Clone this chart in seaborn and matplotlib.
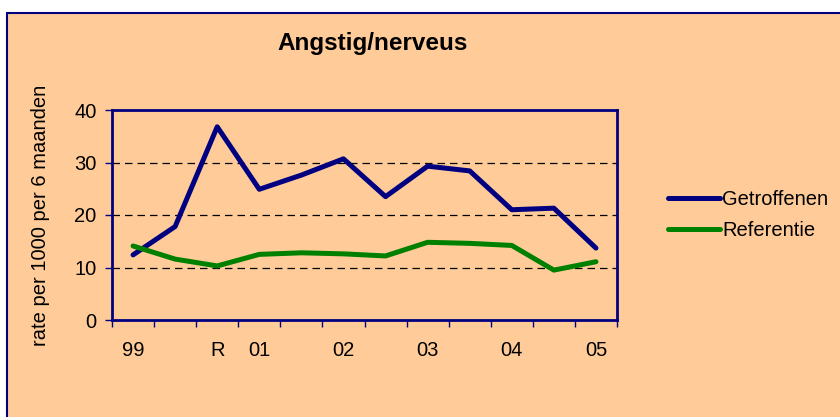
import matplotlib
matplotlib.use('Agg')
import matplotlib.pyplot as plt
from matplotlib.patches import Rectangle
import seaborn as sns
import pandas as pd
import numpy as np

# data
periods = ['99', '', 'R', '01', '', '02', '', '03', '', '04', '', '05']
getroffenen = [12.4, 17.8, 36.8, 24.9, 27.6, 30.7, 23.5, 29.3, 28.4, 21.0, 21.3, 13.7]
referentie = [14.1, 11.6, 10.3, 12.5, 12.8, 12.6, 12.2, 14.8, 14.6, 14.2, 9.5, 11.1]
series_names = ['Getroffenen', 'Referentie']
series_colors = ['#000080', '#008000']

peach = '#FFCC99'
navy = '#000080'

sns.set_style('white')
plt.rcParams['font.family'] = ['Liberation Sans', 'DejaVu Sans']
plt.rcParams['text.color'] = 'black'
plt.rcParams['axes.labelcolor'] = 'black'
plt.rcParams['xtick.color'] = 'black'
plt.rcParams['ytick.color'] = 'black'

df = pd.DataFrame({
  'pos': list(range(len(periods))) * 2,
  'rate': getroffenen + referentie,
  'reeks': [series_names[0]] * len(periods) + [series_names[1]] * len(periods),
})

fig = plt.figure(figsize=(8.4, 4.17), dpi=100)
fig.patch.set_facecolor('white')

# peach chart area with navy border on left / top
frame = Rectangle((7 / 840, -0.05), 1.2, 1 - 13 / 417 + 0.05,
                  transform=fig.transFigure, facecolor=peach,
                  edgecolor=navy, linewidth=1.5, zorder=-10)
fig.patches.append(frame)

ax = fig.add_axes([112 / 840, 1 - 320 / 417, 505 / 840, 210 / 417])
ax.set_facecolor(peach)

sns.lineplot(data=df, x='pos', y='rate', hue='reeks', palette=series_colors,
             linewidth=3.6, ax=ax, legend=True)

ax.set_xlim(-0.5, len(periods) - 0.5)
ax.set_ylim(0, 40)
ax.set_yticks([0, 10, 20, 30, 40])
for y in [10, 20, 30]:
  ax.axhline(y, color='black', linestyle=(0, (6, 4)), linewidth=0.9, zorder=1)

# tick marks between categories, labels on the categories
ax.set_xticks(np.arange(-0.5, len(periods), 1.0))
ax.set_xticklabels([])
ax.set_xticks(np.arange(len(periods)), minor=True)
ax.set_xticklabels(periods, minor=True)
ax.tick_params(axis='x', which='major', direction='out', length=5, width=1,
               color=navy, bottom=True)
ax.tick_params(axis='x', which='minor', length=0, pad=15, labelsize=14.5)
ax.tick_params(axis='y', direction='out', length=5, width=1, color=navy,
               left=True, pad=6, labelsize=14.5)

for s in ax.spines.values():
  s.set_visible(True)
  s.set_color(navy)
  s.set_linewidth(2)

ax.set_xlabel('')
ax.set_ylabel('rate per 1000 per 6 maanden', fontsize=14.5)
ax.yaxis.set_label_coords(-0.123, 0.5)

fig.text(373 / 840, 1 - 50 / 417, 'Angstig/nerveus', ha='center', va='baseline',
         fontsize=17.5, fontweight='bold')

handles, labels = ax.get_legend_handles_labels()
ax.legend(handles, labels, loc='center left', bbox_to_anchor=(1.065, 0.5),
          frameon=False, fontsize=14.5, handlelength=2.6, handletextpad=0.1,
          labelspacing=0.6)
for line in ax.get_legend().get_lines():
  line.set_linewidth(3.6)

fig.savefig('out.png', dpi=100, facecolor=fig.get_facecolor())
